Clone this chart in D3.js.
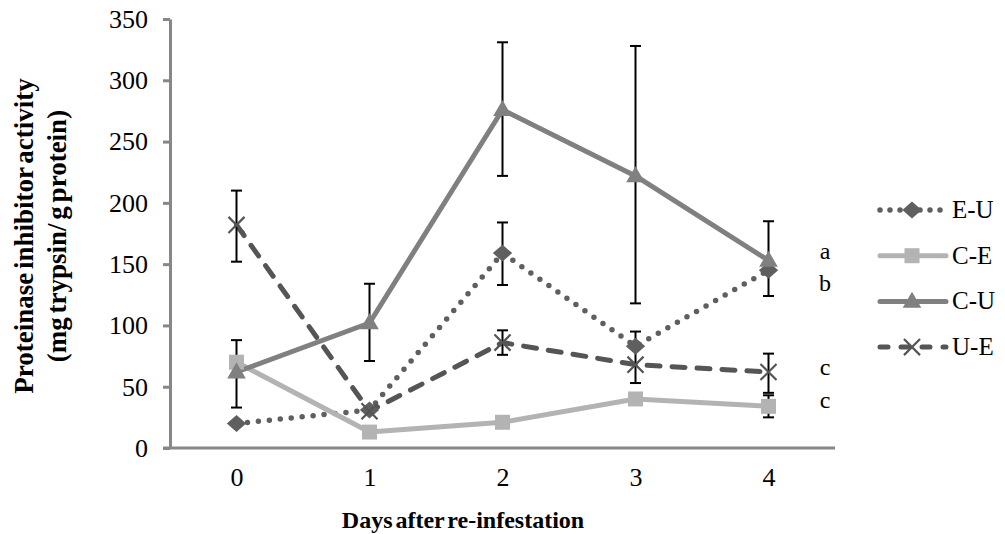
<!DOCTYPE html>
<html>
<head>
<meta charset="utf-8">
<script src="https://cdn.jsdelivr.net/npm/d3@7"></script>
<style>
  html, body { margin: 0; padding: 0; background: #ffffff; }
  svg { display: block; font-family: "Liberation Serif", "Times New Roman", serif; }
</style>
</head>
<body>
<svg id="chart" width="1005" height="534"></svg>
<script>
// Days after re-infestation
const days = [0, 1, 2, 3, 4];
const yTicks = [0, 50, 100, 150, 200, 250, 300, 350];

// Series names (legend order)
const seriesNames = ["E-U", "C-E", "C-U", "U-E"];

// Mean proteinase inhibitor activity (mg trypsin / g protein)
const valuesEU = [20, 31, 159, 83, 145];
const valuesCE = [70, 13, 21, 40, 34];
const valuesCU = [62, 102, 276, 222, 153];
const valuesUE = [182, 30, 86, 68, 62];

// Error bar ranges [low, high]; null where no bar is shown
const errorsEU = [null, null, [133, 184], null, null];
const errorsCE = [null, null, null, null, [25, 43]];
const errorsCU = [[33, 88], [71, 134], [222, 331], [118, 328], [124, 185]];
const errorsUE = [[152, 210], null, [76, 96], [53, 95], [45, 77]];

// Significance letters at the last day
const sigLetters = ["a", "b", "c", "c"];
const sigValues = [160, 134, 65, 38];

(function () {
  const plotLeft = 170, plotRight = 835, plotTop = 19, plotBottom = 448;
  const tickFont = "26px";

  const svg = d3.select("#chart");

  const x = d3.scalePoint().domain(days).range([plotLeft, plotRight]).padding(0.5);
  const y = d3.scaleLinear().domain([0, 350]).range([plotBottom, plotTop]);

  const styles = {
    "E-U": { color: "#5f5f5f", dash: "0,11", width: 5.5, cap: "round", marker: "diamond" },
    "C-E": { color: "#b3b3b3", dash: null, width: 5, cap: "butt", marker: "square" },
    "C-U": { color: "#808080", dash: null, width: 5, cap: "butt", marker: "triangle" },
    "U-E": { color: "#555555", dash: "13,12", width: 5, cap: "round", marker: "cross" }
  };

  const seriesData = [
    { name: "E-U", values: valuesEU, errors: errorsEU },
    { name: "C-E", values: valuesCE, errors: errorsCE },
    { name: "C-U", values: valuesCU, errors: errorsCU },
    { name: "U-E", values: valuesUE, errors: errorsUE }
  ];

  // Y axis
  const yAxis = d3.axisLeft(y).tickValues(yTicks).tickSize(7).tickPadding(15).tickSizeOuter(0);
  const gy = svg.append("g").attr("transform", `translate(${plotLeft},0)`).call(yAxis);
  gy.select(".domain").attr("stroke", "#878787").attr("stroke-width", 3);
  gy.selectAll(".tick line").attr("stroke", "#878787").attr("stroke-width", 3);
  gy.selectAll(".tick text").attr("fill", "#000").style("font-size", tickFont)
    .style("font-family", "'Liberation Serif', serif");

  // X axis
  const xAxis = d3.axisBottom(x).tickSize(0).tickPadding(20).tickSizeOuter(0);
  const gx = svg.append("g").attr("transform", `translate(0,${plotBottom})`).call(xAxis);
  gx.select(".domain").attr("stroke", "#878787").attr("stroke-width", 3)
    .attr("d", `M${plotLeft - 7},0H${plotRight}`);
  gx.selectAll(".tick text").attr("fill", "#000").style("font-size", tickFont)
    .style("font-family", "'Liberation Serif', serif");

  // Axis titles
  svg.append("text")
    .attr("x", 463).attr("y", 528)
    .attr("text-anchor", "middle")
    .style("font-size", "24px").style("font-weight", "bold")
    .style("word-spacing", "-3px")
    .text("Days after re-infestation");

  const yTitle = svg.append("text")
    .attr("transform", "translate(0,236) rotate(-90)")
    .attr("text-anchor", "middle")
    .style("font-size", "27px").style("font-weight", "bold")
    .style("word-spacing", "-3px");
  yTitle.append("tspan").attr("x", 0).attr("y", 33).text("Proteinase inhibitor activity");
  yTitle.append("tspan").attr("x", 0).attr("y", 66).text("(mg trypsin/ g protein)");

  // Marker drawing
  function drawMarker(g, type, color, cx, cy) {
    if (type === "diamond") {
      g.append("path").attr("d", d3.symbol(d3.symbolDiamond2, 180)())
        .attr("transform", `translate(${cx},${cy}) scale(1.15,1)`).attr("fill", color);
    } else if (type === "square") {
      g.append("rect").attr("x", cx - 7.5).attr("y", cy - 7.5).attr("width", 15).attr("height", 15)
        .attr("fill", color);
    } else if (type === "triangle") {
      g.append("path").attr("d", d3.symbol(d3.symbolTriangle, 150)())
        .attr("transform", `translate(${cx},${cy + 1})`).attr("fill", color);
    } else if (type === "cross") {
      g.append("path").attr("d", d3.symbol(d3.symbolX, 170)())
        .attr("transform", `translate(${cx},${cy})`)
        .attr("fill", "none").attr("stroke", color).attr("stroke-width", 2.2);
    }
  }

  const line = d3.line().x((d, i) => x(days[i])).y(d => y(d));

  // Lines
  seriesData.forEach(s => {
    const st = styles[s.name];
    svg.append("path").datum(s.values)
      .attr("d", line)
      .attr("fill", "none")
      .attr("stroke", st.color)
      .attr("stroke-width", st.width)
      .attr("stroke-linecap", st.cap)
      .attr("stroke-linejoin", "round")
      .attr("stroke-dasharray", st.dash);
  });

  // Error bars
  const capHalf = 5.5;
  const eb = svg.append("g").attr("stroke", "#000").attr("stroke-width", 2);
  seriesData.forEach(s => {
    s.errors.forEach((e, i) => {
      if (!e) return;
      const cx = x(days[i]);
      eb.append("line").attr("x1", cx).attr("x2", cx).attr("y1", y(e[0])).attr("y2", y(e[1]));
      eb.append("line").attr("x1", cx - capHalf).attr("x2", cx + capHalf).attr("y1", y(e[0])).attr("y2", y(e[0]));
      eb.append("line").attr("x1", cx - capHalf).attr("x2", cx + capHalf).attr("y1", y(e[1])).attr("y2", y(e[1]));
    });
  });

  // Markers
  seriesData.forEach(s => {
    const st = styles[s.name];
    const g = svg.append("g");
    s.values.forEach((v, i) => drawMarker(g, st.marker, st.color, x(days[i]), y(v)));
  });

  // Significance letters
  svg.append("g").selectAll("text").data(sigLetters).join("text")
    .attr("x", 825).attr("y", (d, i) => y(sigValues[i]) + 7)
    .attr("text-anchor", "middle")
    .style("font-size", "24px")
    .text(d => d);

  // Legend
  const legend = svg.append("g");
  const legY0 = 210, legStep = 45.7;
  seriesNames.forEach((name, i) => {
    const st = styles[name];
    const ly = legY0 + i * legStep;
    legend.append("line")
      .attr("x1", 880).attr("x2", 946)
      .attr("y1", ly).attr("y2", ly)
      .attr("stroke", st.color).attr("stroke-width", st.width)
      .attr("stroke-linecap", "round")
      .attr("stroke-dasharray", name === "E-U" ? "0,10" : (name === "U-E" ? "8,13" : null));
    drawMarker(legend, st.marker, st.color, 912, ly);
    legend.append("text").attr("x", 952).attr("y", ly + 8)
      .style("font-size", "25px").text(name);
  });
})();
</script>
</body>
</html>
